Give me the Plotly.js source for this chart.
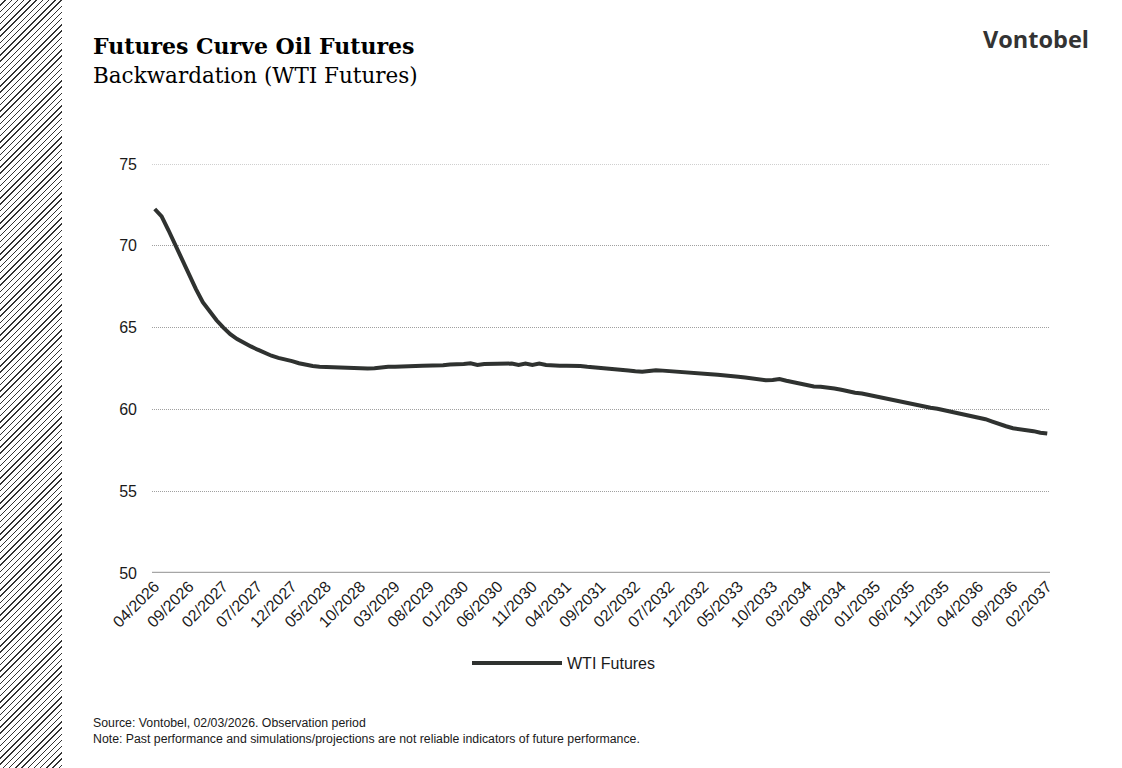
<!DOCTYPE html>
<html>
<head>
<meta charset="utf-8">
<script src="https://cdn.plot.ly/plotly-3.0.1.min.js"></script>
<style>
  html, body { margin: 0; padding: 0; background: #fff; }
  #chart { width: 1122px; height: 768px; }
  /* hatched strip on the left edge */
  #hatch {
    position: absolute; left: 0; top: 0; width: 62px; height: 768px;
    background: repeating-linear-gradient(135deg, #fff 0px, #fff 3.4px, #333 3.4px, #333 4.4px);
    pointer-events: none;
  }
</style>
</head>
<body>
<div id="hatch"></div>
<div id="chart"></div>
<script>
/* WTI futures curve, monthly contracts 04/2026 .. 02/2037 */

const START_YEAR = 2026;
const START_MONTH = 4;

// monthly settlement prices (USD / bbl)
const wtiPrices = [
  72.25, 71.80, 70.95, 70.05, 69.10, 68.20, 67.35, 66.55, 65.95, 65.45,
  65.00, 64.60, 64.30, 64.05, 63.85, 63.65, 63.45, 63.28, 63.15, 63.08,
  62.95, 62.82, 62.72, 62.65, 62.60, 62.58, 62.58, 62.57, 62.57, 62.50,
  62.50, 62.50, 62.52, 62.57, 62.60, 62.60, 62.60, 62.60, 62.65, 62.67,
  62.67, 62.67, 62.70, 62.75, 62.75, 62.78, 62.82, 62.72, 62.78, 62.80,
  62.80, 62.80, 62.80, 62.72, 62.80, 62.72, 62.80, 62.72, 62.68, 62.67,
  62.67, 62.67, 62.65, 62.60, 62.57, 62.55, 62.50, 62.45, 62.42, 62.38,
  62.33, 62.30, 62.35, 62.40, 62.37, 62.33, 62.30, 62.25, 62.22, 62.20,
  62.17, 62.15, 62.12, 62.10, 62.05, 62.00, 61.95, 61.88, 61.83, 61.78,
  61.80, 61.85, 61.75, 61.65, 61.55, 61.45, 61.40, 61.38, 61.35, 61.28,
  61.20, 61.10, 61.02, 60.97, 60.88, 60.78, 60.70, 60.63, 60.57, 60.48,
  60.37, 60.25, 60.15, 60.10, 60.04, 59.95, 59.85, 59.78, 59.65, 59.55,
  59.48, 59.40, 59.25, 59.08, 58.97, 58.85, 58.80, 58.78, 58.67, 58.57,
  58.52
];

const yTicks = [50, 55, 60, 65, 70, 75];
const TICK_EVERY = 5;

function monthLabel(i) {
  const m0 = START_MONTH - 1 + i;
  const y = START_YEAR + Math.floor(m0 / 12);
  const m = (m0 % 12) + 1;
  return (m < 10 ? '0' : '') + m + '/' + y;
}

const months = wtiPrices.map((_, i) => monthLabel(i));
const xTickVals = months.filter((_, i) => i % TICK_EVERY === 0);

const FONT = 'Liberation Sans, Arial, sans-serif';
const SERIF = 'DejaVu Serif, Georgia, serif';
const GRID = '#a0a0a0';

const trace = {
  x: months,
  y: wtiPrices,
  type: 'scatter',
  mode: 'lines',
  name: 'WTI Futures',
  line: { color: '#2f3230', width: 4, shape: 'linear' },
  hoverinfo: 'x+y',
};

// plot area: x 152..1050, y 164..573
const L = 152, R = 1050, T = 164, B = 573, W = 1122, H = 768;
const px = v => (v - L) / (R - L);
const py = v => (B - v) / (B - T);

const layout = {
  width: W,
  height: H,
  margin: { l: L, r: W - R, t: T, b: H - B },
  paper_bgcolor: 'rgba(0,0,0,0)',
  plot_bgcolor: 'rgba(0,0,0,0)',
  font: { family: FONT, size: 16, color: '#1a1a1a' },
  showlegend: true,
  legend: {
    orientation: 'h',
    x: px(467), xanchor: 'left',
    y: py(663), yanchor: 'middle',
    font: { family: FONT, size: 16, color: '#1a1a1a' },
    itemwidth: 90,
  },
  xaxis: {
    type: 'category',
    range: [-0.4, wtiPrices.length - 0.6],
    tickmode: 'array',
    tickvals: xTickVals,
    ticktext: xTickVals,
    tickangle: -45,
    tickfont: { family: FONT, size: 16, color: '#1a1a1a' },
    showgrid: false,
    showline: false,
    ticks: '',
    zeroline: false,
    fixedrange: true,
  },
  yaxis: {
    range: [50, 75],
    tickmode: 'array',
    tickvals: yTicks,
    tickfont: { family: FONT, size: 16, color: '#1a1a1a' },
    showgrid: true,
    gridcolor: GRID,
    griddash: '1px,1px',
    gridwidth: 1,
    zeroline: false,
    showline: false,
    ticks: '',
    ticklabelstandoff: 14,
    fixedrange: true,
  },
  shapes: [
    // top gridline (edge gridlines are not drawn by plotly)
    { type: 'line', xref: 'paper', yref: 'y', x0: 0, x1: 1, y0: 75, y1: 75,
      line: { color: GRID, width: 1, dash: '1px,1px' } },
    // category axis baseline at 50
    { type: 'line', xref: 'paper', yref: 'y', x0: 0, x1: 1, y0: 50, y1: 50,
      line: { color: '#a6a6a6', width: 2.6 } },
  ],
  annotations: [
    { xref: 'paper', yref: 'paper', x: px(91), y: py(46), xanchor: 'left', yanchor: 'middle',
      text: '<b>Futures Curve Oil Futures</b>', showarrow: false,
      font: { family: SERIF, size: 22, color: '#000' } },
    { xref: 'paper', yref: 'paper', x: px(91), y: py(76), xanchor: 'left', yanchor: 'middle',
      text: 'Backwardation (WTI Futures)', showarrow: false,
      font: { family: SERIF, size: 21.5, color: '#000' } },
    { xref: 'paper', yref: 'paper', x: px(1091), y: py(39), xanchor: 'right', yanchor: 'middle',
      text: 'Vontobel', showarrow: false,
      font: { family: 'Open Sans, sans-serif', size: 23.5, weight: 700, color: '#333333' } },
    { xref: 'paper', yref: 'paper', x: px(91), y: py(723), xanchor: 'left', yanchor: 'middle',
      text: 'Source: Vontobel, 02/03/2026. Observation period', showarrow: false,
      font: { family: FONT, size: 12.3, color: '#1a1a1a' } },
    { xref: 'paper', yref: 'paper', x: px(91), y: py(739), xanchor: 'left', yanchor: 'middle',
      text: 'Note: Past performance and simulations/projections are not reliable indicators of future performance.',
      showarrow: false,
      font: { family: FONT, size: 12.3, color: '#1a1a1a' } },
  ],
};

Plotly.newPlot('chart', [trace], layout, { displayModeBar: false, staticPlot: true });
</script>
</body>
</html>
